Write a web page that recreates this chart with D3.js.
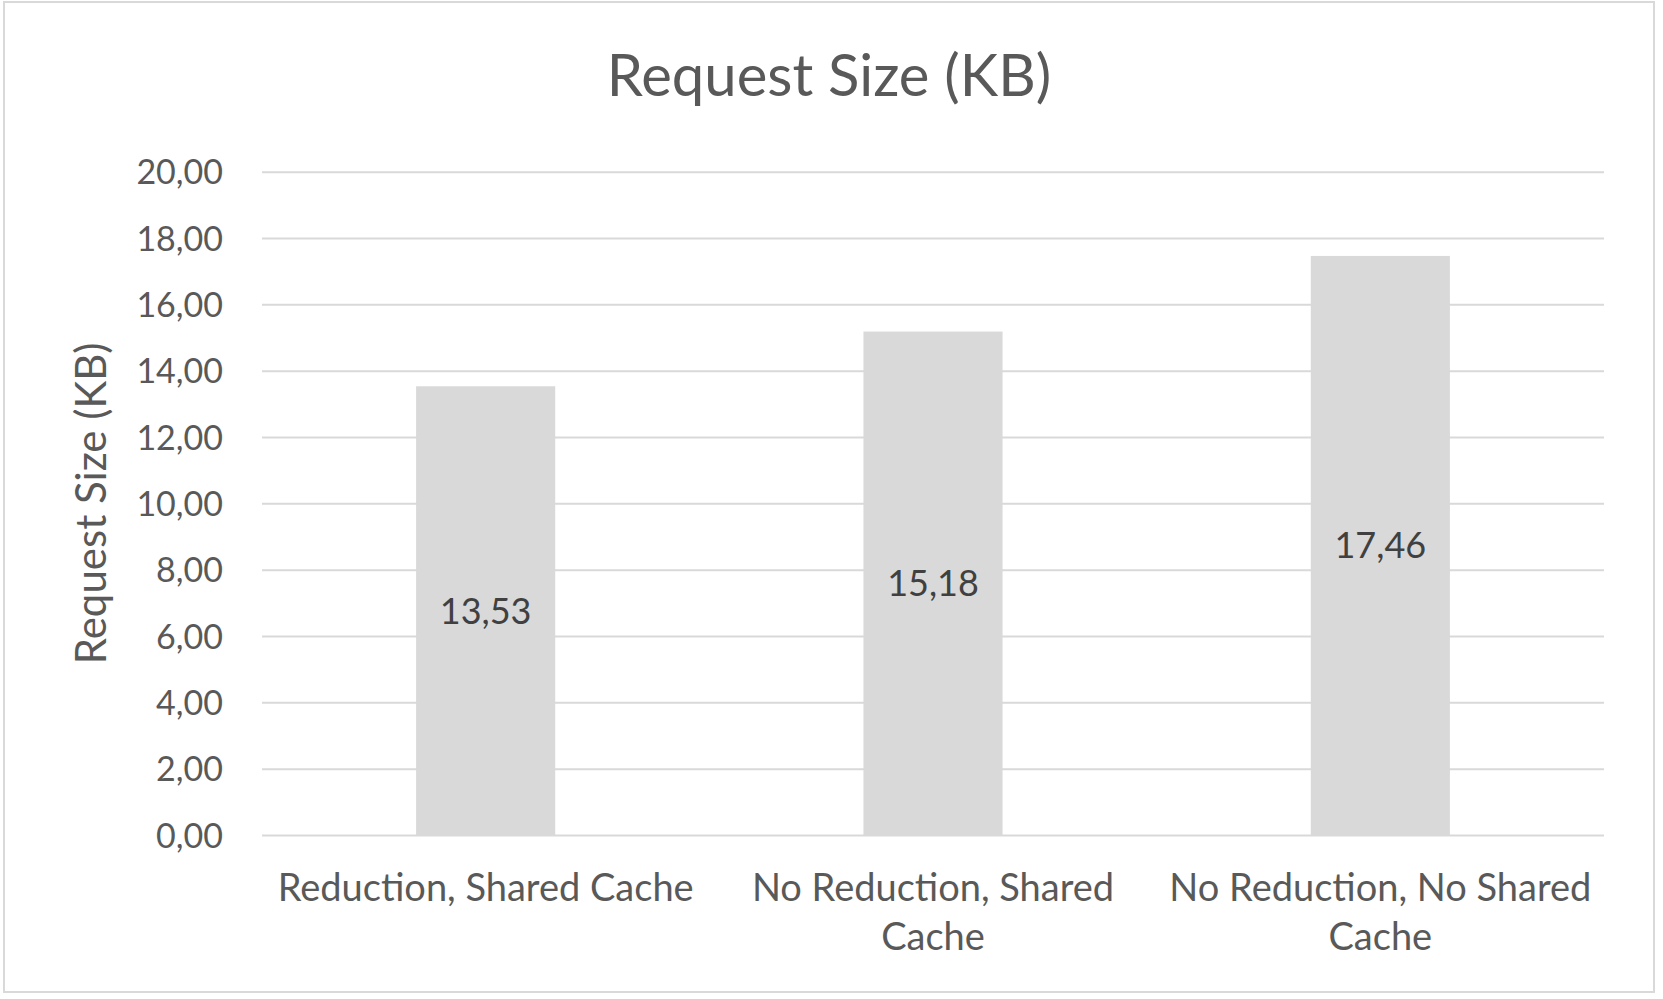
<!DOCTYPE html>
<html>
<head>
<meta charset="utf-8">
<script src="https://cdn.jsdelivr.net/npm/d3@7"></script>
<style>
  html, body { margin: 0; padding: 0; background: #ffffff; }
  svg { display: block; }
  text { font-family: Lato, "Open Sans", sans-serif; }
</style>
</head>
<body>
<svg id="chart" width="1663" height="999"></svg>
<script>
// ---- data ----
const categories = ["Reduction, Shared Cache", "No Reduction, Shared Cache", "No Reduction, No Shared Cache"];
const values = [13.53, 15.18, 17.46];
const yTicks = [0, 2, 4, 6, 8, 10, 12, 14, 16, 18, 20];
const chartTitle = "Request Size (KB)";
const yAxisTitle = "Request Size (KB)";

// ---- layout ----
const W = 1663, H = 999;
const plot = { left: 262, right: 1604, top: 171.7, bottom: 835 };

const locale = d3.formatLocale({ decimal: ",", thousands: ".", grouping: [3], currency: ["", "€"] });
const fmt = locale.format(".2f");

const svg = d3.select("#chart");

// outer border
svg.append("rect")
  .attr("x", 4).attr("y", 2).attr("width", 1650).attr("height", 990)
  .attr("fill", "#ffffff").attr("stroke", "#d9d9d9").attr("stroke-width", 2);

const x = d3.scaleBand().domain(categories).range([plot.left, plot.right])
  .paddingInner(0.689).paddingOuter(0.3445);
const y = d3.scaleLinear().domain([0, 20]).range([plot.bottom, plot.top]);

// gridlines via axis
const grid = svg.append("g").attr("transform", `translate(${plot.left},0)`)
  .call(d3.axisLeft(y).tickValues(yTicks).tickSize(-(plot.right - plot.left)).tickFormat(""));
grid.select(".domain").remove();
grid.selectAll("line").attr("stroke", "#d9d9d9").attr("stroke-width", 2);

// y tick labels
const yAx = svg.append("g").attr("transform", `translate(${plot.left - 39},0)`)
  .call(d3.axisLeft(y).tickValues(yTicks).tickSize(0).tickPadding(0).tickFormat(fmt));
yAx.select(".domain").remove();
yAx.selectAll("text").attr("fill", "#595959").style("font-size", "34px")
  .style("font-family", "Lato, 'Open Sans', sans-serif").attr("dy", "0.36em");

// bars
svg.append("g").selectAll("rect").data(values).join("rect")
  .attr("x", (d, i) => x(categories[i]))
  .attr("y", d => y(d))
  .attr("width", x.bandwidth())
  .attr("height", d => y(0) - y(d))
  .attr("fill", "#d9d9d9");

// data labels (centered)
svg.append("g").selectAll("text").data(values).join("text")
  .attr("x", (d, i) => x(categories[i]) + x.bandwidth() / 2)
  .attr("y", d => (y(d) + y(0)) / 2)
  .attr("dy", "0.36em")
  .attr("text-anchor", "middle")
  .attr("fill", "#404040")
  .style("font-size", "36px")
  .text(d => fmt(d));

// x axis labels with wrapping
const xAx = svg.append("g").attr("transform", `translate(0,${plot.bottom})`)
  .call(d3.axisBottom(x).tickSize(0).tickPadding(0));
xAx.select(".domain").remove();
xAx.selectAll("text").remove();
const maxW = x.step() * 0.97;
xAx.selectAll(".tick").each(function (d) {
  const g = d3.select(this);
  const t = g.append("text").attr("text-anchor", "middle").attr("fill", "#595959")
    .style("font-size", "38px").attr("y", 66);
  const words = d.split(" ");
  let line = [];
  let ts = t.append("tspan").attr("x", 0).attr("dy", 0);
  words.forEach(w => {
    line.push(w);
    ts.text(line.join(" "));
    if (ts.node().getComputedTextLength() > maxW && line.length > 1) {
      line.pop();
      ts.text(line.join(" "));
      line = [w];
      ts = t.append("tspan").attr("x", 0).attr("dy", 49).text(w);
    }
  });
});

// title
svg.append("text").attr("x", 829).attr("y", 96).attr("text-anchor", "middle")
  .attr("fill", "#595959").style("font-size", "58px").text(chartTitle);

// y axis title
svg.append("text")
  .attr("transform", `translate(106,${(plot.top + plot.bottom) / 2}) rotate(-90)`)
  .attr("text-anchor", "middle").attr("fill", "#595959")
  .style("font-size", "42px").text(yAxisTitle);
</script>
</body>
</html>
